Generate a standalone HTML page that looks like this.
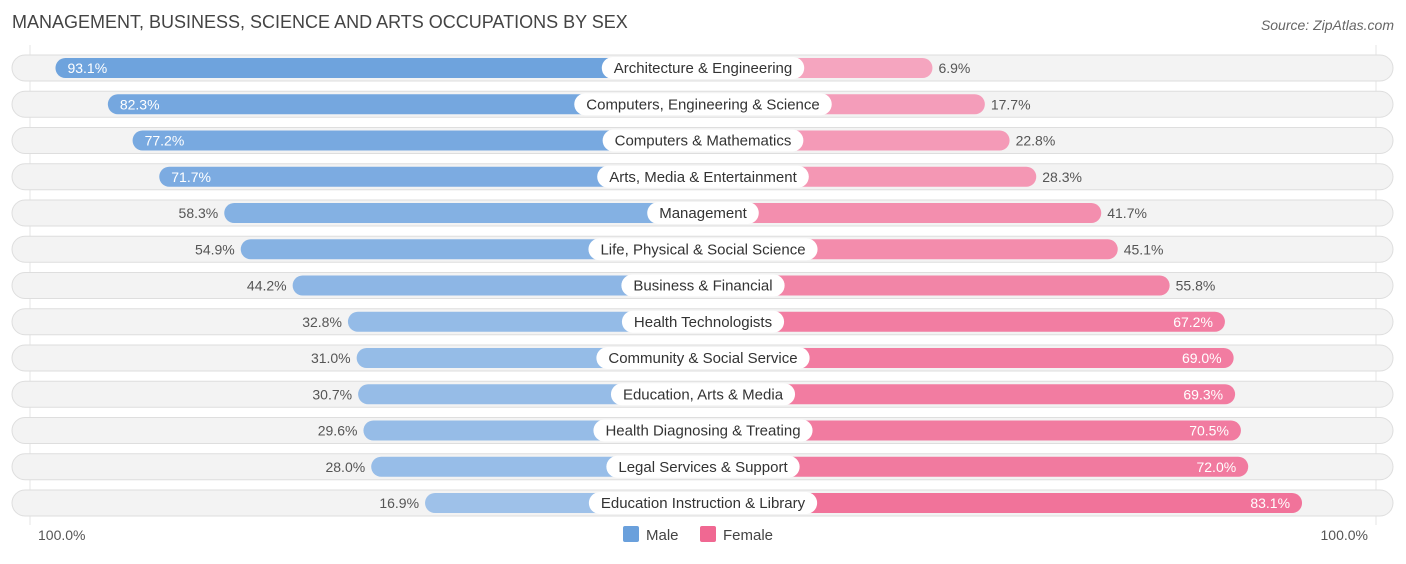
<!DOCTYPE html>
<html><head><meta charset="utf-8"><style>
body{margin:0;background:#fff;width:1406px;height:559px;overflow:hidden;font-family:"Liberation Sans",sans-serif}
</style></head><body>
<svg id="c" width="1406" height="559" xmlns="http://www.w3.org/2000/svg">
<text x="12" y="28" font-size="18" fill="#444">MANAGEMENT, BUSINESS, SCIENCE AND ARTS OCCUPATIONS BY SEX</text>
<text x="1394" y="30" font-size="14" fill="#666" font-style="italic" text-anchor="end">Source: ZipAtlas.com</text>
<line x1="30" y1="45" x2="30" y2="525" stroke="#e4e4e4"/>
<line x1="1376" y1="45" x2="1376" y2="525" stroke="#e4e4e4"/>
<g id="rows"></g>
<text x="38" y="540" font-size="14" fill="#555">100.0%</text>
<text x="1368" y="540" font-size="14" fill="#555" text-anchor="end">100.0%</text>
<g>
<rect x="623" y="526" width="16" height="16" rx="2" fill="#6aa0dc"/>
<text x="646" y="540" font-size="15" fill="#444">Male</text>
<rect x="700" y="526" width="16" height="16" rx="2" fill="#f06892"/>
<text x="723" y="540" font-size="15" fill="#444">Female</text>
</g>
</svg>
<script>
const categories=["Architecture & Engineering","Computers, Engineering & Science","Computers & Mathematics","Arts, Media & Entertainment","Management","Life, Physical & Social Science","Business & Financial","Health Technologists","Community & Social Service","Education, Arts & Media","Health Diagnosing & Treating","Legal Services & Support","Education Instruction & Library"];
const maleValues=[93.1,82.3,77.2,71.7,58.3,54.9,44.2,32.8,31.0,30.7,29.6,28.0,16.9];
const femaleValues=[6.9,17.7,22.8,28.3,41.7,45.1,55.8,67.2,69.0,69.3,70.5,72.0,83.1];
const NS="http://www.w3.org/2000/svg";
const cx=703,gap=196,scale=4.85,y0=68,step=36.25;
const g=document.getElementById('rows');
function mix(a,b,t){return 'rgb('+a.map((v,i)=>Math.round(v+(b[i]-v)*t)).join(',')+')';}
function mk(tag,attrs){const e=document.createElementNS(NS,tag);for(const k in attrs)e.setAttribute(k,attrs[k]);return e;}
const meas=mk('text',{'font-size':15});g.appendChild(meas);
categories.forEach((cat,i)=>{
  const y=y0+i*step;
  const bg=mk('rect',{x:12,y:y-13,width:1381,height:26,rx:13,fill:'#f3f3f3',stroke:'#dedede'});
  
  
  g.appendChild(bg);
  const m=maleValues[i],f=femaleValues[i];
  const mx=cx-gap-m*scale;
  const mb=mk('rect',{x:mx,y:y-10,width:cx-mx,height:20,rx:10,fill:mix([169,200,236],[106,160,220],m/100)});
  
  
  g.appendChild(mb);
  const fx=cx+gap+f*scale;
  const fb=mk('rect',{x:cx,y:y-10,width:fx-cx,height:20,rx:10,fill:mix([245,169,194],[240,104,146],f/100)});
  
  
  g.appendChild(fb);
  const mIn=m>65,fIn=f>65;
  const mt=mk('text',{x:mIn?mx+12:mx-6,y:y+5,'font-size':14,fill:mIn?'#fff':'#555','text-anchor':mIn?'start':'end'});
  mt.textContent=m.toFixed(1)+'%';
  
  
  g.appendChild(mt);
  const ft=mk('text',{x:fIn?fx-12:fx+6,y:y+5,'font-size':14,fill:fIn?'#fff':'#555','text-anchor':fIn?'end':'start'});
  ft.textContent=f.toFixed(1)+'%';
  
  
  g.appendChild(ft);
  meas.textContent=cat;
  const w=meas.getComputedTextLength()+24;
  const lb=mk('rect',{x:cx-w/2,y:y-11,width:w,height:22,rx:11,fill:'#fff'});
  
  
  g.appendChild(lb);
  const lt=mk('text',{x:cx,y:y+5,'font-size':15,fill:'#333','text-anchor':'middle'});
  lt.textContent=cat;
  
  
  g.appendChild(lt);
});
meas.remove();
</script>
</body></html>
